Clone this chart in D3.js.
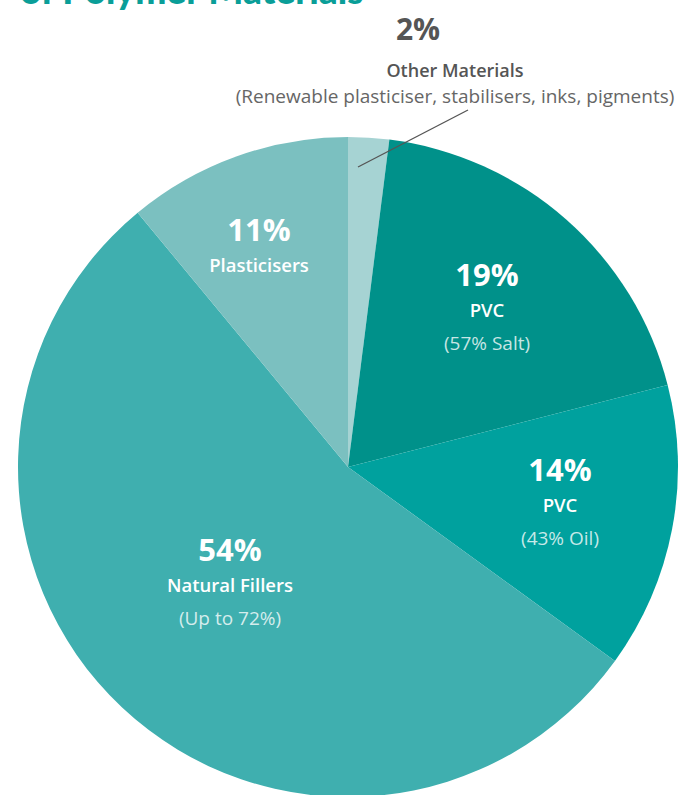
<!DOCTYPE html>
<html><head><meta charset="utf-8">
<script src="https://cdn.jsdelivr.net/npm/d3@7"></script>
<style>body{margin:0;background:#fff;} svg{display:block;}</style>
</head><body>
<svg id="c" width="681" height="795"></svg>
<script>
const categories = ["Other Materials", "PVC (57% Salt)", "PVC (43% Oil)", "Natural Fillers", "Plasticisers"];
const values = [2, 19, 14, 54, 11];
const pctLabels = ["2%", "19%", "14%", "54%", "11%"];
const nameLabels = ["Other Materials", "PVC", "PVC", "Natural Fillers", "Plasticisers"];
const subLabels = ["(Renewable plasticiser, stabilisers, inks, pigments)", "(57% Salt)", "(43% Oil)", "(Up to 72%)", ""];
const colors = ["#a6d3d3", "#00918a", "#00a19e", "#3fafaf", "#7bc0c0"];
const titleText = "of Polymer Materials";

const svg = d3.select("#c");
const tfont = "Lato, sans-serif";
const font = "'Open Sans', sans-serif";
const cx = 348, cy = 467, R = 330;

svg.append("text").attr("x", 20).attr("y", 4).attr("font-family", tfont)
  .attr("font-weight", 900).attr("font-size", 37).attr("fill", "#0a9e98").text(titleText);

const pie = d3.pie().sort(null).value(d => d)(values);
const arc = d3.arc().innerRadius(0).outerRadius(R);
const g = svg.append("g").attr("transform", `translate(${cx},${cy})`);
g.selectAll("path").data(pie).join("path").attr("d", arc).attr("fill", (d, i) => colors[i]);

const labelPos = [null, [139, -182], [212, 13], [-118, 93], [-89, -227]];
pie.forEach((d, i) => {
  if (i === 0) return;
  const [x, y] = labelPos[i];
  const t = g.append("g").attr("transform", `translate(${x},${y})`).attr("text-anchor", "middle").attr("font-family", font).attr("fill", "#fff");
  t.append("text").attr("y", 1).attr("font-weight", 700).attr("font-size", 31).text(pctLabels[i]);
  t.append("text").attr("y", 32).attr("font-weight", 600).attr("font-size", 18.5).text(nameLabels[i]);
  if (subLabels[i]) t.append("text").attr("y", 65).attr("font-weight", 400).attr("font-size", 19).attr("fill-opacity", 0.78).text(subLabels[i]);
});

const o = svg.append("g").attr("text-anchor", "middle").attr("font-family", font).attr("fill", "#555");
o.append("text").attr("x", 418).attr("y", 40).attr("font-weight", 700).attr("font-size", 30).text(pctLabels[0]);
o.append("text").attr("x", 455).attr("y", 77).attr("font-weight", 600).attr("font-size", 18).text(nameLabels[0]);
o.append("text").attr("x", 455).attr("y", 103).attr("font-weight", 400).attr("font-size", 19).attr("fill", "#666").text(subLabels[0]);
svg.append("line").attr("x1", 468).attr("y1", 110).attr("x2", 358).attr("y2", 167).attr("stroke", "#555").attr("stroke-width", 1.3);
</script>
</body></html>
